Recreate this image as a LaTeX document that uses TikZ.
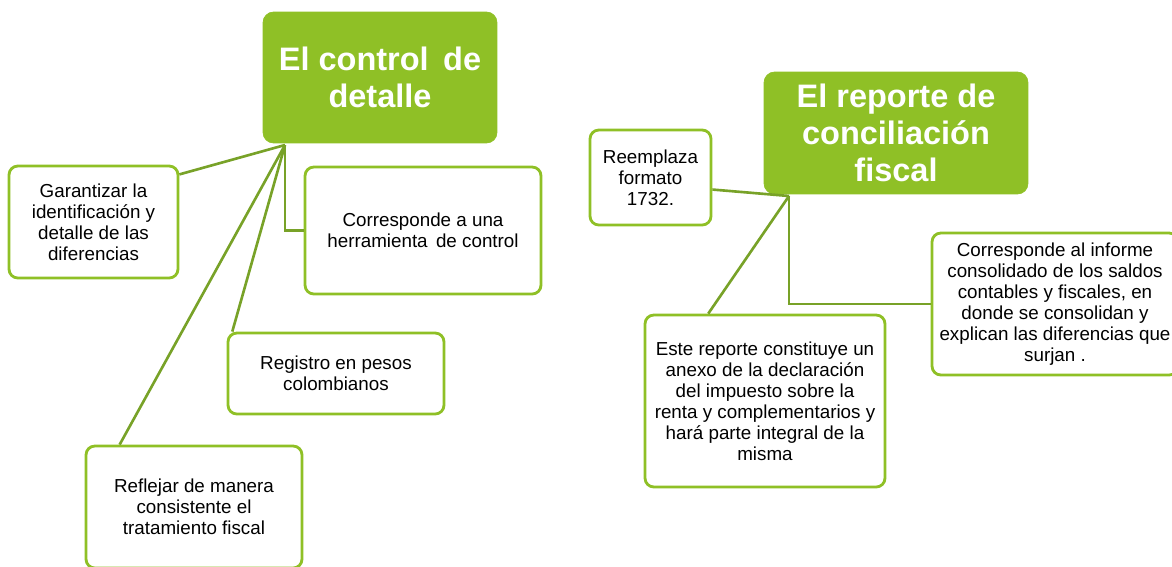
\documentclass[tikz,border=0pt]{standalone}
\usepackage{fontspec}
\setmainfont{Liberation Sans}
\usepackage{tikz}
\usetikzlibrary{positioning}

\definecolor{mapgreen}{RGB}{143,192,38}
\definecolor{linkgreen}{RGB}{120,162,40}

\begin{document}
\begin{tikzpicture}[
    x=0.02cm, y=-0.02cm,
    main_box_style/.style={rectangle, rounded corners=6pt, fill=mapgreen, draw=mapgreen,
        text=white, align=center, inner sep=2pt,
        font=\bfseries\fontsize{18.5}{21}\selectfont},
    leaf_box_style/.style={rectangle, rounded corners=5pt, fill=white, draw=mapgreen,
        line width=1.6pt, align=center, inner sep=2pt,
        font=\fontsize{10.7}{12}\selectfont},
    link_style/.style={draw=linkgreen, line width=1.5pt}
]
\clip (0,0) rectangle (1172,566);

% Left map: el control de detalle
\coordinate (hubA) at (285,145);
\node[main_box_style, minimum width=4.68cm, minimum height=2.62cm] (ctrl) at (380,77.5)
    {El control\, de\\detalle};
\node[leaf_box_style, minimum width=3.38cm, minimum height=2.24cm] (garant) at (93.5,222)
    {Garantizar la\\identificación y\\detalle de las\\diferencias};
\node[leaf_box_style, minimum width=4.72cm, minimum height=2.54cm] (herram) at (423,230.5)
    {Corresponde a una\\herramienta\, de control};
\node[leaf_box_style, minimum width=4.32cm, minimum height=1.62cm] (registro) at (336,373.5)
    {Registro en pesos\\colombianos};
\node[leaf_box_style, minimum width=4.32cm, minimum height=2.44cm] (reflejar) at (194,507)
    {Reflejar de manera\\consistente el\\tratamiento fiscal};

% Right map: el reporte de conciliación fiscal
\coordinate (hubB) at (789,196);
\node[main_box_style, minimum width=5.28cm, minimum height=2.44cm] (reporte) at (896,133)
    {El reporte de\\conciliación\\fiscal};
\node[leaf_box_style, minimum width=2.42cm, minimum height=1.9cm] (reemplaza) at (650.5,177.5)
    {Reemplaza\\formato\\1732.};
\node[leaf_box_style, minimum width=4.92cm, minimum height=2.84cm] (informe) at (1055,304)
    {Corresponde al informe\\consolidado de los saldos\\contables y fiscales, en\\donde se consolidan y\\explican las diferencias que\\surjan .};
\node[leaf_box_style, minimum width=4.8cm, minimum height=3.44cm] (anexo) at (765,401)
    {Este reporte constituye un\\anexo de la declaración\\del impuesto sobre la\\renta y complementarios y\\hará parte integral de la\\misma};

% links
\draw[link_style] (hubA) -- (garant.29);
\draw[link_style] (hubA) |- (herram.west);
\draw[link_style] (hubA) -- (registro.158);
\draw[link_style] (hubA) -- (reflejar.140.5);
\draw[link_style] (hubB) -- (reemplaza.-11);
\draw[link_style] (hubB) |- (informe.west);
\draw[link_style] (hubB) -- (anexo.123.5);

\end{tikzpicture}
\end{document}
